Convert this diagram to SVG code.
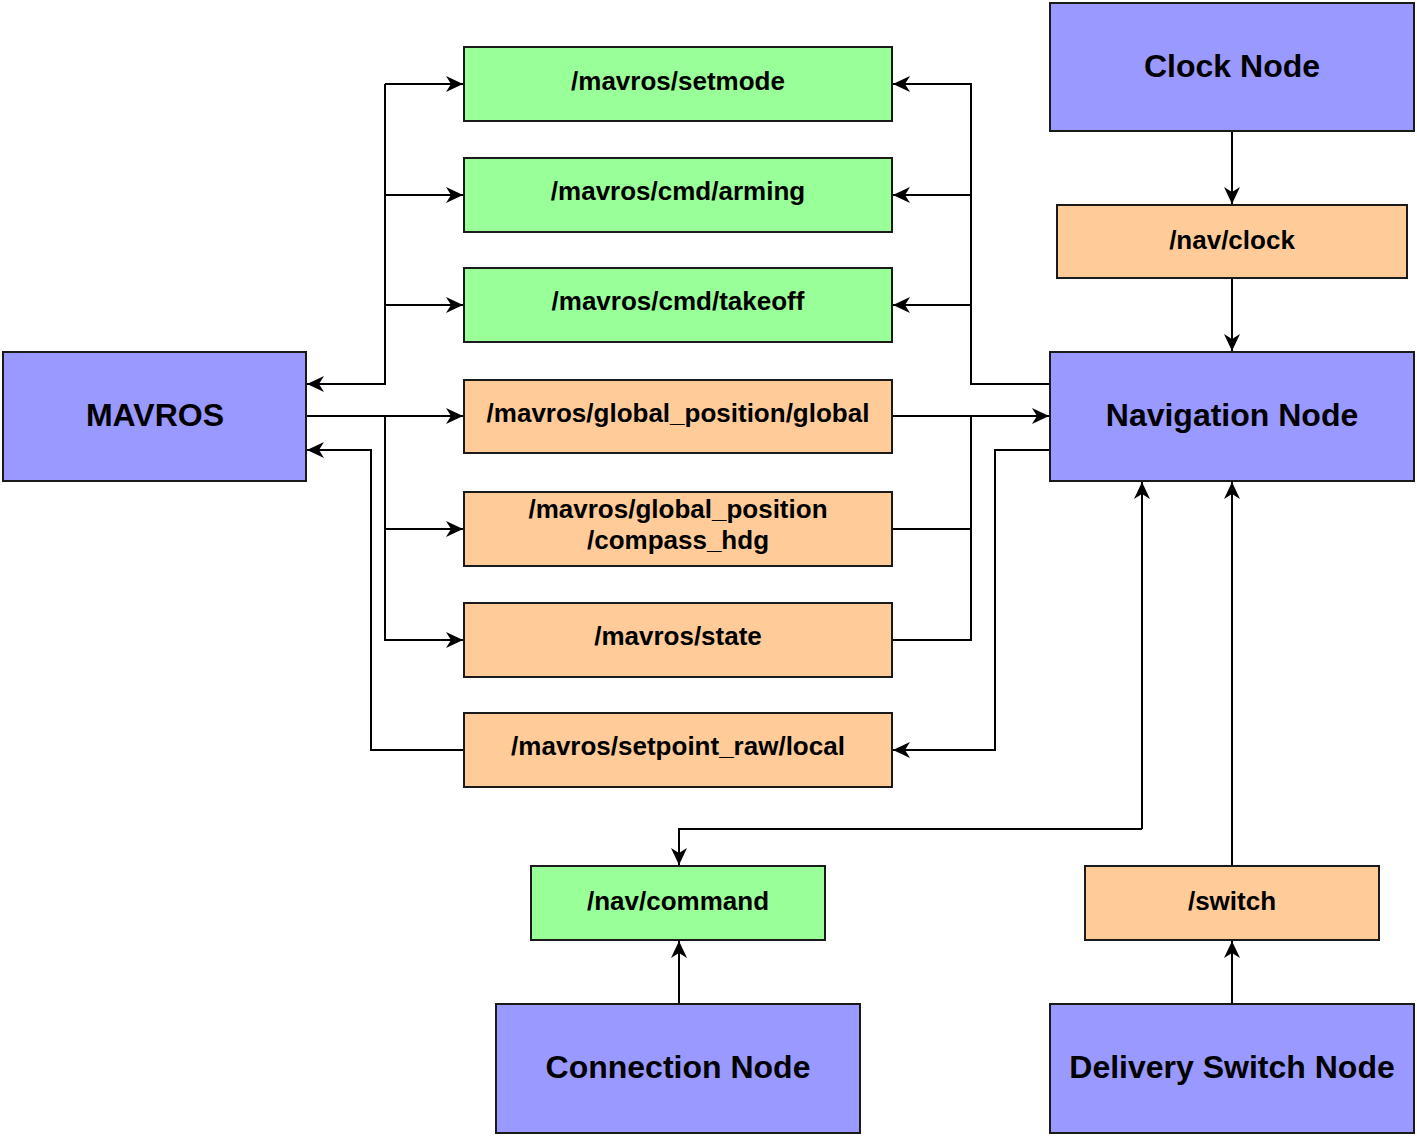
<svg xmlns="http://www.w3.org/2000/svg" width="1417" height="1136" viewBox="0 0 1417 1136">
<defs>
<marker id="arr" markerWidth="18" markerHeight="16" refX="17" refY="8" orient="auto" markerUnits="userSpaceOnUse">
<path d="M0,0 L17,8 L0,16 L5,8 z" fill="#000"/>
</marker>
<style>
.box{stroke:#1a1a1a;stroke-width:2}
.node{fill:#9999FF}
.green{fill:#99FF99}
.orange{fill:#FFCC99}
.big{font-family:"Liberation Sans",Arial,sans-serif;font-weight:bold;font-size:32px;text-anchor:middle;fill:#000}
.t{font-family:"Liberation Sans",Arial,sans-serif;font-weight:bold;font-size:26px;text-anchor:middle;fill:#000}
.c{fill:none;stroke:#000;stroke-width:2}
</style>
</defs>
<rect width="1417" height="1136" fill="#fff"/>
<g id="connectors">
<path class="c" d="M1232 131 L1232 204" marker-end="url(#arr)"/>
<path class="c" d="M1232 278 L1232 351" marker-end="url(#arr)"/>
<path class="c" d="M385 84 L385 384 L307 384" marker-end="url(#arr)"/>
<path class="c" d="M385 84 L463 84" marker-end="url(#arr)"/>
<path class="c" d="M385 195 L463 195" marker-end="url(#arr)"/>
<path class="c" d="M385 305 L463 305" marker-end="url(#arr)"/>
<path class="c" d="M306 416 L463 416" marker-end="url(#arr)"/>
<path class="c" d="M385 416 L385 640 L463 640" marker-end="url(#arr)"/>
<path class="c" d="M385 529 L463 529" marker-end="url(#arr)"/>
<path class="c" d="M464 750 L371 750 L371 450 L307 450" marker-end="url(#arr)"/>
<path class="c" d="M1050 384 L971 384 L971 84 L893 84" marker-end="url(#arr)"/>
<path class="c" d="M971 195 L893 195" marker-end="url(#arr)"/>
<path class="c" d="M971 305 L893 305" marker-end="url(#arr)"/>
<path class="c" d="M892 416 L1049 416" marker-end="url(#arr)"/>
<path class="c" d="M892 529 L971 529"/>
<path class="c" d="M892 640 L971 640 L971 416"/>
<path class="c" d="M1050 450 L995 450 L995 750 L893 750" marker-end="url(#arr)"/>
<path class="c" d="M1142 829 L679 829 L679 865" marker-end="url(#arr)"/>
<path class="c" d="M1142 829 L1142 482" marker-end="url(#arr)"/>
<path class="c" d="M1232 866 L1232 482" marker-end="url(#arr)"/>
<path class="c" d="M1232 1004 L1232 941" marker-end="url(#arr)"/>
<path class="c" d="M679 1004 L679 941" marker-end="url(#arr)"/>
</g>
<g id="clock-node"><rect class="box node" x="1050" y="3" width="364" height="128"/><text class="big" x="1232" y="77">Clock Node</text></g>
<g id="nav-clock"><rect class="box orange" x="1057" y="205" width="350" height="73"/><text class="t" x="1232" y="249">/nav/clock</text></g>
<g id="navigation-node"><rect class="box node" x="1050" y="352" width="364" height="129"/><text class="big" x="1232" y="426">Navigation Node</text></g>
<g id="mavros"><rect class="box node" x="3" y="352" width="303" height="129"/><text class="big" x="155" y="426">MAVROS</text></g>
<g id="setmode"><rect class="box green" x="464" y="47" width="428" height="74"/><text class="t" x="678" y="90">/mavros/setmode</text></g>
<g id="arming"><rect class="box green" x="464" y="158" width="428" height="74"/><text class="t" x="678" y="200">/mavros/cmd/arming</text></g>
<g id="takeoff"><rect class="box green" x="464" y="268" width="428" height="74"/><text class="t" x="678" y="310">/mavros/cmd/takeoff</text></g>
<g id="global"><rect class="box orange" x="464" y="380" width="428" height="73"/><text class="t" x="678" y="422">/mavros/global_position/global</text></g>
<g id="compass"><rect class="box orange" x="464" y="492" width="428" height="74"/><text class="t" x="678" y="518">/mavros/global_position</text><text class="t" x="678" y="549">/compass_hdg</text></g>
<g id="state"><rect class="box orange" x="464" y="603" width="428" height="74"/><text class="t" x="678" y="645">/mavros/state</text></g>
<g id="setpoint"><rect class="box orange" x="464" y="713" width="428" height="74"/><text class="t" x="678" y="755">/mavros/setpoint_raw/local</text></g>
<g id="nav-command"><rect class="box green" x="531" y="866" width="294" height="74"/><text class="t" x="678" y="910">/nav/command</text></g>
<g id="switch"><rect class="box orange" x="1085" y="866" width="294" height="74"/><text class="t" x="1232" y="910">/switch</text></g>
<g id="connection-node"><rect class="box node" x="496" y="1004" width="364" height="129"/><text class="big" x="678" y="1078">Connection Node</text></g>
<g id="delivery-switch-node"><rect class="box node" x="1050" y="1004" width="364" height="129"/><text class="big" x="1232" y="1078">Delivery Switch Node</text></g>
</svg>
